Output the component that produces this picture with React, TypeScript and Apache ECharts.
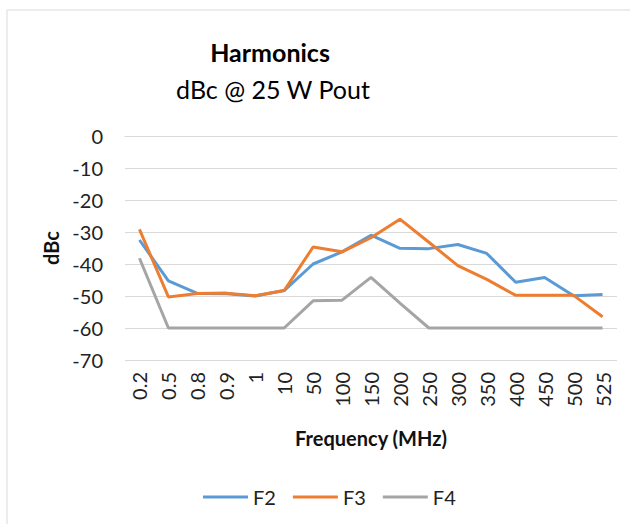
import React, { useEffect, useRef } from "react";
import * as echarts from "echarts";

const categories = ["0.2", "0.5", "0.8", "0.9", "1", "10", "50", "100", "150", "200", "250", "300", "350", "400", "450", "500", "525"];
const f2 = [-32.5, -45.3, -49.2, -49.3, -50, -48.3, -40, -36.2, -31, -35.1, -35.2, -33.9, -36.7, -45.7, -44.2, -49.9, -49.5];
const f3 = [-29.2, -50.3, -49.2, -49.1, -49.9, -48.3, -34.7, -36.2, -31.8, -26, -33.2, -40.5, -44.8, -49.8, -49.8, -49.8, -56.5];
const f4 = [-38.2, -60, -60, -60, -60, -60, -51.5, -51.3, -44.2, -52.2, -60, -60, -60, -60, -60, -60, -60];
const yTicks = { min: -70, max: 0, interval: 10 };

const FONT = "Lato, 'Open Sans', sans-serif";

export default function App() {
  const ref = useRef<HTMLDivElement>(null);
  useEffect(() => {
    if (!ref.current) return;
    const chart = echarts.init(ref.current, undefined, { renderer: "svg" });
    const mk = (name: string, data: number[], color: string) => ({
      name,
      type: "line",
      data,
      symbol: "none",
      lineStyle: { color, width: 3 },
      itemStyle: { color },
    });
    chart.setOption({
      animation: false,
      backgroundColor: "#ffffff",
      textStyle: { fontFamily: FONT },
      title: [
        {
          text: "Harmonics",
          left: 265,
          top: 34,
          textAlign: "center",
          textStyle: { fontFamily: FONT, fontSize: 25, fontWeight: "bold", color: "#000" },
        },
        {
          text: "dBc @ 25 W Pout",
          left: 268,
          top: 71,
          textAlign: "center",
          textStyle: { fontFamily: FONT, fontSize: 25, fontWeight: "normal", color: "#000" },
        },
      ],
      graphic: [
        { type: "line", shape: { x1: 7, y1: 10, x2: 630, y2: 10 }, style: { stroke: "#d9d9d9", lineWidth: 1 } },
        { type: "line", shape: { x1: 7, y1: 10, x2: 7, y2: 524 }, style: { stroke: "#d9d9d9", lineWidth: 1 } },
      ],
      legend: {
        left: 198,
        top: 482,
        itemWidth: 45,
        itemHeight: 3,
        itemGap: 17,
        icon: "rect",
        textStyle: { fontFamily: FONT, fontSize: 20, color: "#222" },
        data: ["F2", "F3", "F4"],
      },
      grid: { left: 125, right: 13, top: 136, bottom: 164 },
      xAxis: {
        type: "category",
        data: categories,
        boundaryGap: true,
        name: "Frequency (MHz)",
        nameLocation: "middle",
        nameGap: 68,
        nameTextStyle: { fontFamily: FONT, fontSize: 20, fontWeight: "bold", color: "#111" },
        axisLine: { show: true, lineStyle: { color: "#d9d9d9", width: 1 } },
        axisTick: { show: false },
        axisLabel: { rotate: 90, interval: 0, margin: 12, fontFamily: FONT, fontSize: 20, color: "#222" },
      },
      yAxis: {
        type: "value",
        min: yTicks.min,
        max: yTicks.max,
        interval: yTicks.interval,
        name: "dBc",
        nameLocation: "middle",
        nameRotate: 90,
        nameGap: 62,
        nameTextStyle: { fontFamily: FONT, fontSize: 20, fontWeight: "bold", color: "#111" },
        axisLine: { show: false },
        axisTick: { show: false },
        axisLabel: { margin: 22, fontFamily: FONT, fontSize: 20, color: "#222" },
        splitLine: { lineStyle: { color: "#d9d9d9", width: 1 } },
      },
      series: [mk("F2", f2, "#5B9BD5"), mk("F3", f3, "#ED7D31"), mk("F4", f4, "#A5A5A5")],
    });
    return () => chart.dispose();
  }, []);
  return <div ref={ref} style={{ width: 630, height: 524, position: "absolute", left: 0, top: 0 }} />;
}
